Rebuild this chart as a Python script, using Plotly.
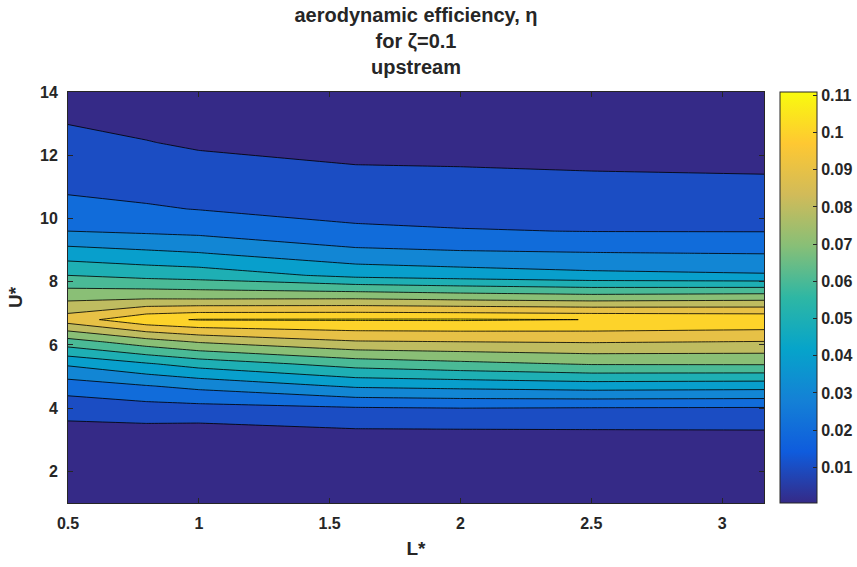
import plotly.graph_objects as go

# ---------------- data ----------------
L_star = [0.5, 0.8, 1.0, 1.6, 2.0, 2.5, 3.16]
U_star = [1.0, 2.0, 2.6, 3.3, 4.0, 4.7, 5.4, 6.1, 6.8, 7.5, 8.2, 8.9, 9.6,
          10.3, 11.0, 11.7, 12.4, 13.2, 14.0]

# aerodynamic efficiency eta along U* for each L* column
eta_L050 = [0.0008, 0.0020, 0.0042, 0.0072, 0.0138, 0.0249, 0.0415, 0.0657, 0.0950, 0.0772,
            0.0600, 0.0446, 0.0300, 0.0236, 0.0180, 0.0152, 0.0125, 0.0090, 0.0065]
eta_L080 = [0.0007, 0.0023, 0.0045, 0.0073, 0.0160, 0.0295, 0.0490, 0.0755, 0.1075, 0.0782,
            0.0570, 0.0420, 0.0285, 0.0210, 0.0170, 0.0136, 0.0103, 0.0073, 0.0050]
eta_L100 = [0.0006, 0.0025, 0.0040, 0.0067, 0.0168, 0.0326, 0.0540, 0.0809, 0.1106, 0.0778,
            0.0556, 0.0404, 0.0275, 0.0197, 0.0160, 0.0122, 0.0088, 0.0062, 0.0042]
eta_L160 = [0.0005, 0.0025, 0.0050, 0.0093, 0.0192, 0.0414, 0.0641, 0.0892, 0.1108, 0.0781,
            0.0474, 0.0329, 0.0216, 0.0170, 0.0135, 0.0100, 0.0072, 0.0048, 0.0030]
eta_L200 = [0.0005, 0.0022, 0.0050, 0.0095, 0.0200, 0.0429, 0.0674, 0.0900, 0.1109, 0.0762,
            0.0452, 0.0313, 0.0205, 0.0166, 0.0130, 0.0097, 0.0068, 0.0045, 0.0028]
eta_L250 = [0.0005, 0.0022, 0.0050, 0.0097, 0.0195, 0.0448, 0.0708, 0.0908, 0.1099, 0.0745,
            0.0426, 0.0304, 0.0198, 0.0161, 0.0125, 0.0090, 0.0063, 0.0042, 0.0026]
eta_L316 = [0.0004, 0.0020, 0.0050, 0.0099, 0.0192, 0.0440, 0.0710, 0.0897, 0.1085, 0.0759,
            0.0411, 0.0297, 0.0197, 0.0159, 0.0120, 0.0085, 0.0060, 0.0040, 0.0025]

contour_levels = [0.01, 0.02, 0.03, 0.04, 0.05, 0.06, 0.07, 0.08, 0.09, 0.10, 0.11]

x_tickvals = [0.5, 1, 1.5, 2, 2.5, 3]
x_ticktext = ["0.5", "1", "1.5", "2", "2.5", "3"]
y_tickvals = [2, 4, 6, 8, 10, 12, 14]
y_ticktext = ["2", "4", "6", "8", "10", "12", "14"]
cbar_tickvals = [0.01, 0.02, 0.03, 0.04, 0.05, 0.06, 0.07, 0.08, 0.09, 0.10, 0.11]
cbar_ticktext = ["0.01", "0.02", "0.03", "0.04", "0.05", "0.06", "0.07", "0.08", "0.09", "0.1", "0.11"]

# ---------------- build grid ----------------
columns = [eta_L050, eta_L080, eta_L100, eta_L160, eta_L200, eta_L250, eta_L316]
z = [[col[i] for col in columns] for i in range(len(U_star))]
zmin = min(min(c) for c in columns)
zmax = max(max(c) for c in columns)

# ---------------- parula colormap ----------------
PARULA = ['#352a87', '#0f5cdd', '#1481d6', '#06a4ca', '#2eb7a4',
          '#87bf77', '#d1bb59', '#fec832', '#f9fb0e']


def _hex(h):
    return [int(h[i:i + 2], 16) for i in (1, 3, 5)]


def parula(t):
    t = max(0.0, min(1.0, t))
    n = len(PARULA) - 1
    i = min(int(t * n), n - 1)
    f = t * n - i
    a, b = _hex(PARULA[i]), _hex(PARULA[i + 1])
    c = [round(a[k] + (b[k] - a[k]) * f) for k in range(3)]
    return "rgb(%d,%d,%d)" % tuple(c)


nc = len(contour_levels)
# MATLAB contourf colours each band by its lower level; plotly samples band k at k/nc
contour_cs = [[0.0, parula(0.0)]]
for k in range(1, nc + 1):
    contour_cs.append([k / nc, parula((contour_levels[k - 1] - zmin) / (zmax - zmin))])

bar_cs = [[i / (len(PARULA) - 1), c] for i, c in enumerate(PARULA)]

FONT = "Liberation Sans, Arial, sans-serif"
DARK = "#262626"

fig = go.Figure()
fig.add_trace(go.Contour(
    x=L_star, y=U_star, z=z,
    autocontour=False,
    contours=dict(start=contour_levels[0], end=contour_levels[-1],
                  size=contour_levels[1] - contour_levels[0], coloring="fill",
                  showlines=True),
    colorscale=contour_cs,
    line=dict(color="rgba(0,0,0,0.9)", width=0.9, smoothing=0),
    showscale=False,
    hoverinfo="skip",
))

# continuous colour bar (as in MATLAB)
fig.add_trace(go.Scatter(
    x=[None], y=[None], mode="markers", showlegend=False, hoverinfo="skip",
    marker=dict(color=[zmin, zmax], colorscale=bar_cs, cmin=zmin, cmax=zmax,
                showscale=True,
                colorbar=dict(x=1.023, xanchor="left", xpad=0, ypad=0,
                              y=0.5, yanchor="middle",
                              len=1, lenmode="fraction", thickness=37,
                              outlinewidth=1, outlinecolor=DARK,
                              ticks="inside", ticklen=4, tickcolor=DARK,
                              tickvals=cbar_tickvals, ticktext=cbar_ticktext,
                              tickfont=dict(family=FONT, size=16, color=DARK, weight="bold"))),
))

fig.update_layout(
    width=857, height=567,
    margin=dict(l=68, r=93, t=92, b=64, autoexpand=False),
    paper_bgcolor="white", plot_bgcolor="white",
    title=dict(text="aerodynamic efficiency, η<br>for ζ=0.1<br>upstream",
               x=0.5, xref="paper", xanchor="center",
               y=1 - 22 / 567, yref="container", yanchor="middle",
               font=dict(family=FONT, size=20, color=DARK, weight="bold")),
    xaxis=dict(range=[L_star[0], L_star[-1]], tickvals=x_tickvals, ticktext=x_ticktext,
               ticks="inside", ticklen=5, tickcolor=DARK, showgrid=False, zeroline=False,
               showline=True, linecolor=DARK, linewidth=1, mirror="ticks",
               ticklabelstandoff=6,
               tickfont=dict(family=FONT, size=16, color=DARK, weight="bold"),
               title=dict(text="L*", standoff=10,
                          font=dict(family=FONT, size=19, color=DARK, weight="bold"))),
    yaxis=dict(range=[U_star[0], U_star[-1]], tickvals=y_tickvals, ticktext=y_ticktext,
               ticks="inside", ticklen=5, tickcolor=DARK, showgrid=False, zeroline=False,
               showline=True, linecolor=DARK, linewidth=1, mirror="ticks",
               ticklabelstandoff=6,
               tickfont=dict(family=FONT, size=16, color=DARK, weight="bold"),
               title=dict(text="U*", standoff=12,
                          font=dict(family=FONT, size=19, color=DARK, weight="bold"))),
)

fig.write_html("out.html")
